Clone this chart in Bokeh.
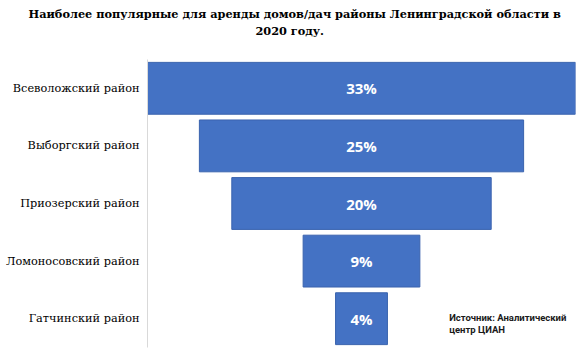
from bokeh.plotting import figure
from bokeh.models import ColumnDataSource, FactorRange, Range1d, Label, Title
from bokeh.core.properties import value
from bokeh.embed import file_html
from bokeh.resources import INLINE

districts = ["Всеволожский район", "Выборгский район", "Приозерский район",
             "Ломоносовский район", "Гатчинский район"]
shares = [33, 25, 20, 9, 4]
title_lines = ["Наиболее популярные для аренды домов/дач районы Ленинградской области в",
               "2020 году."]
source_lines = ["Источник: Аналитический", "центр ЦИАН"]

src = ColumnDataSource(dict(
    d=districts,
    left=[-v / 2 for v in shares],
    right=[v / 2 for v in shares],
    x=[0] * len(shares),
    lbl=[f"{v}%" for v in shares],
))

p = figure(width=580, height=353, output_backend="svg", toolbar_location=None,
           y_range=FactorRange(*list(reversed(districts))),
           x_range=Range1d(-16.5, 16.5),
           min_border_left=147, min_border_right=5, min_border_top=59, min_border_bottom=6)
p.outline_line_color = None
p.xaxis.visible = False
p.xgrid.visible = False
p.ygrid.visible = False

p.hbar(y="d", left="left", right="right", height=0.9, source=src,
       fill_color="#4472C4", line_color="#3A63AE", line_width=1)
p.text(x="x", y="d", text="lbl", source=src, text_color="white",
       text_font=value("Open Sans"), text_font_style="bold", text_font_size="15px",
       text_align="center", text_baseline="middle")

ax = p.yaxis[0]
ax.axis_line_color = "#D9D9D9"
ax.major_tick_line_color = None
ax.minor_tick_line_color = None
ax.major_tick_out = 0
ax.major_tick_in = 0
ax.major_label_standoff = 8
ax.major_label_text_font = "DejaVu Serif"
ax.major_label_text_font_size = "11.3px"
ax.major_label_text_color = "#000000"

# title: spacer nearest the plot, then line 2, then line 1 (outermost)
spacer = Title(text="\u00a0", standoff=10.5, text_font_size="8px")
t2 = Title(text=title_lines[1], align="left", offset=108, standoff=0,
           text_font="DejaVu Serif", text_font_style="bold", text_font_size="11.3px",
           text_color="#000000")
t1 = Title(text=title_lines[0], align="left", offset=-119, standoff=2,
           text_font="DejaVu Serif", text_font_style="bold", text_font_size="11.3px",
           text_color="#000000")
p.add_layout(spacer, "above")
p.add_layout(t2, "above")
p.add_layout(t1, "above")

# source note
p.add_layout(Label(x=6.76, y=0.513, text=source_lines[0], text_font="Roboto",
                   text_font_style="bold", text_font_size="9.5px", text_color="#1a1a1a",
                   text_align="left", text_baseline="middle"))
p.add_layout(Label(x=6.76, y=0.304, text=source_lines[1], text_font="Roboto",
                   text_font_style="bold", text_font_size="9.5px", text_color="#1a1a1a",
                   text_align="left", text_baseline="middle"))

open("out.html", "w").write(file_html(p, INLINE))
